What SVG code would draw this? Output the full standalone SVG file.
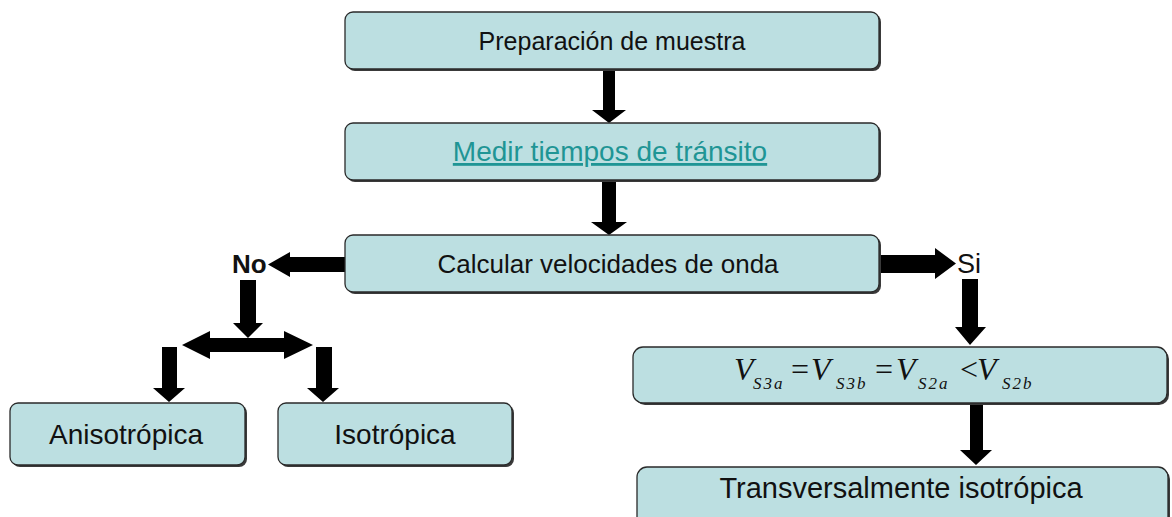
<svg xmlns="http://www.w3.org/2000/svg" width="1172" height="517" viewBox="0 0 1172 517">
<defs>
<style>
.box{fill:#bcdfe1;stroke:#2a2a2a;stroke-width:1.3}
.sh{fill:#3a3a3a}
.t{font-family:"Liberation Sans",Arial,sans-serif;fill:#111;text-anchor:middle}
.arr{fill:#000}
.m{font-family:"Liberation Serif","Times New Roman",serif;font-style:italic;fill:#111}
.sub{font-size:17px;letter-spacing:2px}
.op{font-style:normal}
</style>
</defs>
<rect width="1172" height="517" fill="#fff"/>
<g id="connectors">
<polygon class="arr" points="603,70 615,70 615,110 626,110 609,123 592,110 603,110"/>
<polygon class="arr" points="602,181 616,181 616,222 627,222 609,235 591,222 602,222"/>
<polygon class="arr" points="345,257 290,257 290,252 268,264.5 290,277 290,272 345,272"/>
<polygon class="arr" points="240,280 256,280 256,323 263,323 248,338 233,323 240,323"/>
<polygon class="arr" points="182,345 210,331 210,338 284,338 284,331 313,345 284,359 284,352 210,352 210,359"/>
<polygon class="arr" points="162,347 177,347 177,388 185,388 169,402 153,388 162,388"/>
<polygon class="arr" points="316,347 332,347 332,388 339,388 323,402 307,388 316,388"/>
<polygon class="arr" points="879,255 935,255 935,248 956,263.5 935,279 935,273 879,273"/>
<polygon class="arr" points="962,279 978,279 978,327 986,327 970,345 955,327 962,327"/>
<polygon class="arr" points="970,404 983,404 983,450 992,450 976,465 960,450 970,450"/>
<text x="232" y="273" font-family="Liberation Sans,Arial,sans-serif" font-weight="bold" font-size="26" fill="#111">No</text>
<text x="957" y="273" font-family="Liberation Sans,Arial,sans-serif" font-size="27" fill="#111">Si</text>
</g>
<g id="n1">
<rect class="sh" x="347" y="14" width="534" height="57" rx="8"/>
<rect class="box" x="345" y="12" width="534" height="57" rx="8"/>
<text class="t" x="612" y="50" font-size="25">Preparación de muestra</text>
</g>
<g id="n2">
<rect class="sh" x="347" y="125" width="534" height="57" rx="8"/>
<rect class="box" x="345" y="123" width="534" height="57" rx="8"/>
<text class="t" x="610" y="161" font-size="28" style="fill:#1f9595" text-decoration="underline">Medir tiempos de tránsito</text>
</g>
<g id="n3">
<rect class="sh" x="347" y="237" width="534" height="57" rx="8"/>
<rect class="box" x="345" y="235" width="534" height="57" rx="8"/>
<text class="t" x="608" y="273" font-size="26">Calcular velocidades de onda</text>
</g>
<g id="n4">
<rect class="sh" x="12" y="405" width="235" height="62" rx="8"/>
<rect class="box" x="10" y="403" width="235" height="62" rx="8"/>
<text class="t" x="126" y="444" font-size="28">Anisotrópica</text>
</g>
<g id="n5">
<rect class="sh" x="280" y="405" width="234" height="62" rx="8"/>
<rect class="box" x="278" y="403" width="234" height="62" rx="8"/>
<text class="t" x="395" y="444" font-size="28">Isotrópica</text>
</g>
<g id="n6">
<rect class="sh" x="635" y="349" width="534" height="56" rx="10"/>
<rect class="box" x="633" y="347" width="534" height="56" rx="10"/>
<text class="m" y="380" font-size="32"><tspan x="734">V</tspan><tspan class="sub" x="753" y="389">S3a</tspan><tspan class="op" x="791" y="380">=</tspan><tspan x="811">V</tspan><tspan class="sub" x="836" y="389">S3b</tspan><tspan class="op" x="875" y="380">=</tspan><tspan x="896">V</tspan><tspan class="sub" x="918" y="389">S2a</tspan><tspan class="op" x="960" y="380">&lt;</tspan><tspan x="977">V</tspan><tspan class="sub" x="1002" y="389">S2b</tspan></text>
</g>
<g id="n7">
<rect class="sh" x="639" y="469" width="531" height="64" rx="10"/>
<rect class="box" x="637" y="467" width="531" height="64" rx="10"/>
<text class="t" x="901" y="498" font-size="29">Transversalmente isotrópica</text>
</g>
</svg>
